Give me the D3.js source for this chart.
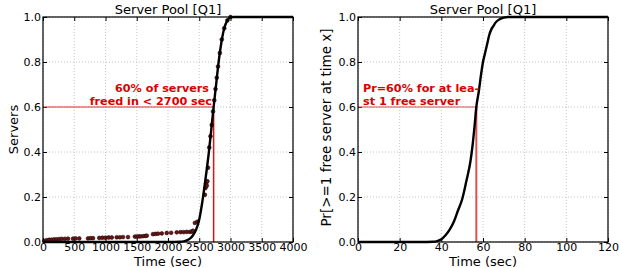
<!DOCTYPE html>
<html>
<head>
<meta charset="utf-8">
<script src="https://cdn.jsdelivr.net/npm/d3@7"></script>
<style>
  body { margin: 0; background: #fff; }
  svg { font-family: "DejaVu Sans", sans-serif; }
  .grid line { stroke: #b8b8b8; stroke-dasharray: 1,2; stroke-width: 0.8; }
  .note { fill: #dd0000; font-weight: bold; font-size: 11.2px; }
</style>
</head>
<body>
<div id="chart"></div>
<script>
// ---- data ----
var yTicks = [0, 0.2, 0.4, 0.6, 0.8, 1.0];
var xTicksLeft = [0, 500, 1000, 1500, 2000, 2500, 3000, 3500, 4000];
var xTicksRight = [0, 20, 40, 60, 80, 100, 120];

// fitted curve (left)
var fitX = [0, 2000, 2200, 2250, 2300, 2350, 2400, 2450, 2500, 2550, 2600, 2650, 2700, 2730, 2770, 2810, 2850, 2900, 2950, 3000, 3050, 4000];
var fitY = [0, 0, 0.001, 0.003, 0.007, 0.015, 0.03, 0.055, 0.1, 0.18, 0.28, 0.39, 0.52, 0.6, 0.7, 0.8, 0.88, 0.95, 0.985, 0.998, 1, 1];

// measured servers (left, dots)
var obsX = [20, 60, 100, 140, 180, 220, 260, 300, 350, 400, 480, 520, 580, 720, 760, 800, 900, 950, 1000, 1050, 1100, 1180, 1230, 1280, 1360,
            1470, 1500, 1530, 1560, 1600, 1640, 1660, 1760, 1800, 1840, 1900, 1980, 2050, 2140, 2200, 2250, 2300, 2350, 2380, 2400,
            2430, 2470, 2590, 2600, 2610, 2620, 2630, 2640, 2660, 2680, 2700, 2720, 2740, 2760, 2780, 2800, 2830, 2860, 2900, 2950, 3000];
var obsY = [0.005, 0.008, 0.01, 0.01, 0.012, 0.012, 0.013, 0.014, 0.014, 0.015, 0.015, 0.016, 0.016, 0.016, 0.017, 0.017, 0.018, 0.019, 0.019, 0.02, 0.02, 0.021, 0.021, 0.022, 0.022,
            0.024, 0.024, 0.025, 0.025, 0.026, 0.027, 0.028, 0.035, 0.036, 0.037, 0.038, 0.04, 0.041, 0.043, 0.044, 0.044, 0.045, 0.045, 0.046, 0.05,
            0.085, 0.09, 0.21, 0.24, 0.26, 0.25, 0.27, 0.33, 0.42, 0.47, 0.52, 0.58, 0.63, 0.68, 0.73, 0.78, 0.84, 0.9, 0.95, 0.985, 1];

// probability of at least one free server (right)
var probX = [0, 30, 36, 38, 40, 42, 44, 46, 48, 50, 52, 54, 55, 56, 56.8, 58, 59, 60, 61, 62, 63, 64, 65, 66, 68, 70, 72, 120];
var probY = [0, 0, 0.001, 0.004, 0.012, 0.03, 0.055, 0.09, 0.14, 0.19, 0.27, 0.36, 0.43, 0.52, 0.6, 0.67, 0.74, 0.8, 0.84, 0.88, 0.92, 0.945, 0.96, 0.975, 0.99, 0.997, 1, 1];

var svg = d3.select("#chart").append("svg")
  .attr("width", 619)
  .attr("height", 268);

var plotH = 225;
var plotW = 250;

function makePanel(left, xDomain, xTicks) {
  var g = svg.append("g").attr("transform", `translate(${left}, 17)`);
  var x = d3.scaleLinear().domain(xDomain).range([0, plotW]);
  var y = d3.scaleLinear().domain([0, 1]).range([plotH, 0]);

  // dotted grid
  var grid = g.append("g").attr("class", "grid");
  grid.selectAll("line.v").data(xTicks).enter().append("line")
    .attr("x1", d => x(d)).attr("x2", d => x(d))
    .attr("y1", 0).attr("y2", plotH);
  grid.selectAll("line.h").data(yTicks).enter().append("line")
    .attr("x1", 0).attr("x2", plotW)
    .attr("y1", d => y(d)).attr("y2", d => y(d));

  // axes, ticks pointing inward like matplotlib
  g.append("g").attr("transform", `translate(0, ${plotH})`)
    .call(d3.axisBottom(x).tickValues(xTicks).tickFormat(d3.format("d")).tickSizeInner(-4).tickSizeOuter(0).tickPadding(1))
    .call(a => a.select(".domain").remove());
  g.append("g")
    .call(d3.axisLeft(y).tickValues(yTicks).tickFormat(d3.format(".1f")).tickSizeInner(-4).tickSizeOuter(0).tickPadding(2))
    .call(a => a.select(".domain").remove());
  g.append("g")
    .call(d3.axisTop(x).tickValues(xTicks).tickFormat("").tickSizeInner(-4).tickSizeOuter(0))
    .call(a => a.select(".domain").remove());
  g.append("g").attr("transform", `translate(${plotW}, 0)`)
    .call(d3.axisRight(y).tickValues(yTicks).tickFormat("").tickSizeInner(-4).tickSizeOuter(0))
    .call(a => a.select(".domain").remove());
  g.selectAll(".tick line").attr("stroke", "#000");
  g.selectAll(".tick text").attr("font-family", "DejaVu Sans").attr("font-size", 11).attr("fill", "#000");

  g.append("text")
    .attr("x", plotW / 2).attr("y", -3)
    .attr("text-anchor", "middle")
    .attr("font-size", 13)
    .text("Server Pool [Q1]");

  g.append("text")
    .attr("x", plotW / 2).attr("y", plotH + 24)
    .attr("text-anchor", "middle")
    .attr("font-size", 13)
    .text("Time (sec)");

  return {g: g, x: x, y: y};
}

function frame(p) {
  p.g.append("rect")
    .attr("width", plotW).attr("height", plotH)
    .attr("fill", "none").attr("stroke", "#000").attr("stroke-width", 1.2);
}

var line = d3.line().curve(d3.curveMonotoneX);

// ---- left panel ----
var L = makePanel(43, [0, 4000], xTicksLeft);
L.g.append("text")
  .attr("transform", `translate(-25, ${plotH / 2}) rotate(-90)`)
  .attr("text-anchor", "middle")
  .attr("font-size", 13)
  .text("Servers");

L.g.append("line")
  .attr("x1", 0).attr("x2", L.x(2730))
  .attr("y1", L.y(0.6)).attr("y2", L.y(0.6))
  .attr("stroke", "#d83030").attr("stroke-width", 1.2);
L.g.append("line")
  .attr("x1", L.x(2730)).attr("x2", L.x(2730))
  .attr("y1", L.y(0.6)).attr("y2", plotH)
  .attr("stroke", "#e01010").attr("stroke-width", 1.5);

L.g.append("g").selectAll("circle")
  .data(obsX.map((d, i) => [d, obsY[i]]))
  .enter().append("circle")
  .attr("cx", d => L.x(d[0]))
  .attr("cy", d => L.y(d[1]))
  .attr("r", 1.9)
  .attr("fill", "#6a1414")
  .attr("stroke", "#220808")
  .attr("stroke-width", 0.6);

L.g.append("path")
  .attr("d", line(fitX.map((d, i) => [L.x(d), L.y(fitY[i])])))
  .attr("fill", "none").attr("stroke", "#000").attr("stroke-width", 2.4);

L.g.append("text").attr("class", "note").attr("text-anchor", "end")
  .attr("x", 166).attr("y", 75).text("60% of servers");
L.g.append("text").attr("class", "note").attr("text-anchor", "end")
  .attr("x", 169).attr("y", 88).text("freed in < 2700 sec");
frame(L);

// ---- right panel ----
var R = makePanel(358, [0, 120], xTicksRight);
R.g.append("text")
  .attr("transform", `translate(-27, ${plotH / 2 - 2}) rotate(-90)`)
  .attr("text-anchor", "middle")
  .attr("font-size", 13.5)
  .text("Pr[>=1 free server at time x]");

R.g.append("line")
  .attr("x1", 0).attr("x2", R.x(56.8))
  .attr("y1", R.y(0.6)).attr("y2", R.y(0.6))
  .attr("stroke", "#d85050").attr("stroke-width", 1.2);
R.g.append("line")
  .attr("x1", R.x(56.8)).attr("x2", R.x(56.8))
  .attr("y1", R.y(0.6)).attr("y2", plotH)
  .attr("stroke", "#d85050").attr("stroke-width", 2);

R.g.append("path")
  .attr("d", line(probX.map((d, i) => [R.x(d), R.y(probY[i])])))
  .attr("fill", "none").attr("stroke", "#000").attr("stroke-width", 2.4);

R.g.append("text").attr("class", "note")
  .attr("x", 5).attr("y", 75).text("Pr=60% for at lea-");
R.g.append("text").attr("class", "note")
  .attr("x", 5).attr("y", 88).text("st 1 free server");
frame(R);
</script>
</body>
</html>
